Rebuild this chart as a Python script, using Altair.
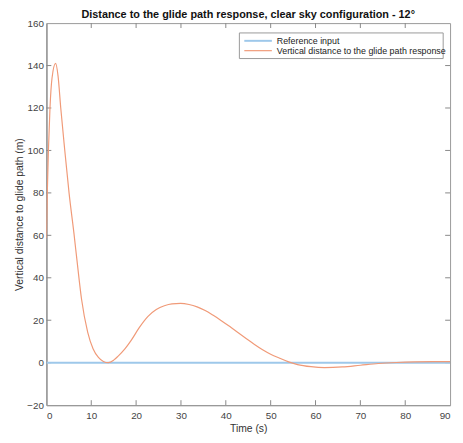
import altair as alt
import pandas as pd

# ---- data ----
series_names = ["Reference input", "Vertical distance to the glide path response"]

ref_t = [0, 90]
ref_v = [0, 0]

resp_t = [0, 0.2, 0.45, 0.8, 1.25, 2.05, 2.6, 3.2, 4.1, 5.05, 6.15, 6.88, 7.83,
          9.2, 10.4, 11.6, 12.7, 13.8, 15, 16, 17.5, 18.9, 20.7, 22.6, 24.5,
          26.3, 28, 29.9, 31.8, 33.6, 35.4, 37.2, 39, 40.9, 42.7, 44.6, 46.4,
          48.2, 50, 51.9, 54, 56, 59, 62, 66, 70, 74, 78, 82, 86, 90]
resp_v = [58.7, 80, 100, 120, 134, 141, 135, 120, 100, 80, 60.8, 47, 30,
          14.4, 6.6, 2.5, 0.6, 0, 1.2, 3.1, 6.5, 10.5, 16.5, 21.7, 25,
          26.8, 27.7, 27.9, 27.4, 26.3, 24.6, 22.3, 19.8, 17.0, 14.2, 11.3, 8.6,
          6.1, 4.0, 2.2, 0.4, -0.9, -1.9, -2.3, -2.0, -1.2, -0.4, 0.1, 0.4, 0.5, 0.5]

x_ticks = [0, 10, 20, 30, 40, 50, 60, 70, 80, 90]
y_ticks = [-20, 0, 20, 40, 60, 80, 100, 120, 140, 160]

line_colors = ["#9ec8ea", "#f09a78"]
line_widths = [2.0, 1.2]

W, H = 410, 388
TICK = 5
FONT = "Liberation Sans"

df = pd.concat([
    pd.DataFrame({"t": ref_t, "v": ref_v, "series": series_names[0]}),
    pd.DataFrame({"t": resp_t, "v": resp_v, "series": series_names[1]}),
])

xs = alt.Scale(domain=[0, 90], nice=False, zero=False)
ys = alt.Scale(domain=[-20, 160], nice=False, zero=False)
cscale = alt.Scale(domain=series_names, range=line_colors)
wscale = alt.Scale(domain=series_names, range=line_widths)

lines = alt.Chart(df).mark_line(interpolate="monotone", clip=True).encode(
    x=alt.X("t:Q", scale=xs, title="Time (s)",
            axis=alt.Axis(values=x_ticks, ticks=False, tickSize=0, labelPadding=6,
                          titlePadding=3, grid=False)),
    y=alt.Y("v:Q", scale=ys, title="Vertical distance to glide path (m)",
            axis=alt.Axis(values=y_ticks, ticks=False, tickSize=0, labelPadding=3,
                          titlePadding=2, grid=False)),
    color=alt.Color("series:N", scale=cscale, legend=None),
    strokeWidth=alt.StrokeWidth("series:N", scale=wscale, legend=None),
    order=alt.Order("t:Q"),
)

xt = pd.DataFrame({"t": x_ticks[1:-1]})
yt = pd.DataFrame({"v": y_ticks[1:-1]})
tick_color = "#888"

x_bot = alt.Chart(xt).mark_rule(color=tick_color, strokeWidth=1).encode(
    x=alt.X("t:Q", scale=xs), y=alt.value(H - TICK), y2=alt.value(H))
x_top = alt.Chart(xt).mark_rule(color=tick_color, strokeWidth=1).encode(
    x=alt.X("t:Q", scale=xs), y=alt.value(0), y2=alt.value(TICK))
y_left = alt.Chart(yt).mark_rule(color=tick_color, strokeWidth=1).encode(
    y=alt.Y("v:Q", scale=ys, axis=None), x=alt.value(0), x2=alt.value(TICK))
y_right = alt.Chart(yt).mark_rule(color=tick_color, strokeWidth=1).encode(
    y=alt.Y("v:Q", scale=ys, axis=None), x=alt.value(W - TICK), x2=alt.value(W))

# ---- legend (box, line samples, labels) ----
leg = pd.DataFrame({"series": series_names})
leg_y = alt.Y("series:N", scale=alt.Scale(type="point", domain=series_names,
                                          range=[18, 28], padding=0), axis=None)
leg_box = alt.Chart(pd.DataFrame({"k": [0]})).mark_rect(
    fill="white", stroke="#999", strokeWidth=1).encode(
    x=alt.value(196), x2=alt.value(403), y=alt.value(10), y2=alt.value(36))
leg_lines = alt.Chart(leg).mark_rule().encode(
    x=alt.value(201), x2=alt.value(229), y=leg_y,
    color=alt.Color("series:N", scale=cscale, legend=None),
    strokeWidth=alt.StrokeWidth("series:N", scale=wscale, legend=None))
leg_text = alt.Chart(leg).mark_text(
    align="left", baseline="middle", font=FONT, fontSize=9, color="#222").encode(
    x=alt.value(234), y=leg_y, text="series:N")

chart = alt.layer(x_bot, x_top, y_left, y_right, lines,
                  leg_box, leg_lines, leg_text).resolve_scale(
    y="independent"
).properties(
    width=W, height=H,
    title=alt.Title("Distance to the glide path response, clear sky configuration - 12°",
                    fontSize=11, font=FONT, fontWeight="bold", color="#111",
                    anchor="middle", offset=-2),
    autosize=alt.AutoSizeParams(type="none"),
    padding={"left": 39, "top": 12, "right": 5, "bottom": 27},
).configure_view(
    stroke="#999", strokeWidth=1
).configure_axis(
    labelFont=FONT, titleFont=FONT, labelFontSize=10, titleFontSize=10.5,
    labelColor="#444", titleColor="#333", titleFontWeight="normal",
    domainColor="#999", domainWidth=1.5
)

chart.save("out.html", embed_options={"renderer": "svg", "actions": False})
